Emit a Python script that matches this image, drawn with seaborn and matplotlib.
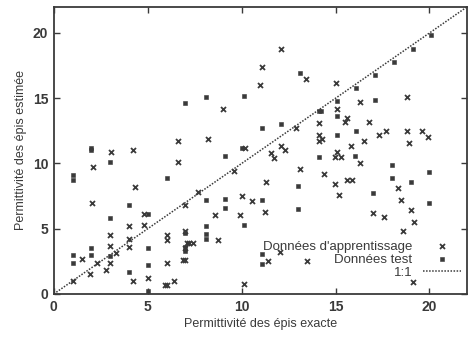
import matplotlib
matplotlib.use("Agg")
import matplotlib.pyplot as plt
import pandas as pd
import seaborn as sns

# --- data ---
train_x = [6.6, 4.2, 12.1, 11.1, 13.4, 11.0, 9.0, 14.1, 14.1, 8.2, 12.1, 15.0, 15.1, 15.6, 15.5,
           16.3, 18.8, 16.8, 17.3, 17.7, 18.8, 19.6, 19.9, 16.5, 15.8, 18.9, 14.3, 3.05, 2.1, 6.6,
           4.3, 2.05, 4.8, 4.0, 4.8, 3.0, 4.0, 3.0, 1.5, 2.3, 3.0, 3.3, 4.0, 6.0, 6.0, 7.0, 7.1,
           6.0, 6.9, 2.8, 1.9, 1.0, 4.2, 5.0, 5.9, 6.05, 6.4, 11.55, 11.7, 12.3, 9.6, 13.1, 11.3,
           7.7, 7.0, 10.0, 10.55, 11.25, 8.6, 9.9, 7.0, 7.2, 7.4, 8.75, 7.0, 11.4, 12.05, 13.5,
           10.1, 14.96, 15.1, 15.3, 16.3, 14.4, 14.96, 15.6, 15.9, 15.2, 18.3, 18.5, 17.0, 17.6,
           19.0, 19.15, 18.6, 19.1, 12.9, 10.2, 14.1]
train_y = [11.7, 11.0, 18.8, 17.4, 16.5, 16.0, 14.2, 12.2, 11.7, 11.9, 11.3, 16.2, 14.2, 13.5, 13.2,
           14.7, 15.1, 13.2, 12.2, 12.5, 12.5, 12.5, 12.05, 11.7, 11.3, 11.6, 11.9, 10.9, 9.7, 10.1,
           8.2, 6.95, 6.1, 5.2, 5.3, 4.5, 4.2, 3.7, 2.7, 2.4, 2.4, 3.1, 3.6, 4.5, 4.1, 3.5, 3.9,
           2.4, 2.6, 1.8, 1.5, 1.0, 1.0, 1.25, 0.7, 0.7, 1.0, 10.8, 10.4, 11.0, 9.4, 9.6, 8.6,
           7.8, 6.8, 7.5, 7.1, 6.3, 6.05, 6.05, 4.8, 3.9, 3.9, 4.1, 2.6, 2.5, 3.2, 2.5,
           0.8, 10.5, 10.9, 10.5, 10.0, 9.2, 8.4, 8.7, 8.7, 7.6, 8.1, 7.2, 6.2, 5.9,
           6.4, 5.5, 4.8, 0.9, 12.7, 11.2, 13.1]

test_x = [7.0, 8.1, 10.1, 13.1, 11.1, 12.1, 10.0, 14.25, 15.1, 16.1, 17.1, 18.1, 19.1, 20.1,
          15.1, 17.1, 15.1, 16.1, 2.0, 2.0, 3.0, 1.0, 1.0, 6.0, 4.0, 3.0, 5.0, 5.0, 7.0, 4.0,
          5.0, 5.0, 9.1, 14.1, 13.0, 8.1, 9.1, 9.1, 11.1, 13.0, 10.1, 8.1, 8.1, 8.1, 7.0, 7.0,
          11.1, 11.1, 16.05, 18.0, 18.0, 19.0, 20.0, 17.0, 20.0, 1.0, 1.0, 2.0, 2.0, 3.0, 14.1]
test_y = [14.6, 15.1, 15.2, 16.9, 12.75, 13.0, 11.2, 14.0, 14.8, 15.8, 16.8, 17.8, 18.8, 19.85,
          13.6, 14.9, 12.2, 12.5, 11.2, 11.0, 10.1, 9.1, 8.7, 8.9, 6.8, 5.85, 6.1, 3.55, 4.7, 1.66,
          2.2, 0.25, 10.6, 10.5, 8.3, 7.2, 7.3, 6.6, 7.2, 6.5, 5.3, 5.2, 4.6, 4.2, 3.6, 3.3,
          3.07, 2.3, 10.57, 9.9, 8.9, 8.56, 9.37, 7.7, 7.0, 3.0, 2.4, 3.5, 3.0, 2.9, 14.0]

line_x = [0, 22]
line_y = [0, 22]

ticks = [0, 5, 10, 15, 20]

sns.set_style("ticks")
plt.rcParams['font.family'] = ['Liberation Sans', 'DejaVu Sans']

ink = "#3a3a3a"
fig = plt.figure(figsize=(4.68, 3.43), dpi=100)
ax = fig.add_axes([0.115, 0.143, 0.883, 0.837])

train_df = pd.DataFrame({"x": train_x, "y": train_y})
test_df = pd.DataFrame({"x": test_x, "y": test_y})

sns.scatterplot(data=train_df, x="x", y="y", marker="x", s=13, color=ink,
                linewidth=1.3, ax=ax, label="Données d'apprentissage")
sns.scatterplot(data=test_df, x="x", y="y", marker="s", s=11, color=ink,
                linewidth=0.4, edgecolor=ink, ax=ax, label="Données test")
sns.lineplot(x=line_x, y=line_y, color=ink, linestyle=(0, (1, 1)), linewidth=1.1,
             ax=ax, label="1:1")

ax.set_xlim(0, 22)
ax.set_ylim(0, 22)
ax.set_xticks(ticks)
ax.set_yticks(ticks)
ax.tick_params(direction="in", length=4, width=1, top=True, right=True,
               labelsize=10, colors=ink, pad=4)
for lab in ax.get_xticklabels() + ax.get_yticklabels():
    lab.set_fontweight("bold")
for sp in ax.spines.values():
    sp.set_visible(True)
    sp.set_color(ink)
    sp.set_linewidth(1.3)

ax.set_xlabel("Permittivité des épis exacte", fontsize=9, color=ink, labelpad=3)
ax.set_ylabel("Permittivité des épis estimée", fontsize=9, color=ink, labelpad=4)

ax.legend(loc="lower right", bbox_to_anchor=(1.0, 0.033), markerfirst=False, frameon=False,
          fontsize=9.5, handlelength=2.9, handletextpad=0.8, labelspacing=0.05,
          borderaxespad=0.05, labelcolor=ink)
leg = ax.get_legend()
leg._legend_box.align = "right"

fig.savefig("out.png", dpi=100)
